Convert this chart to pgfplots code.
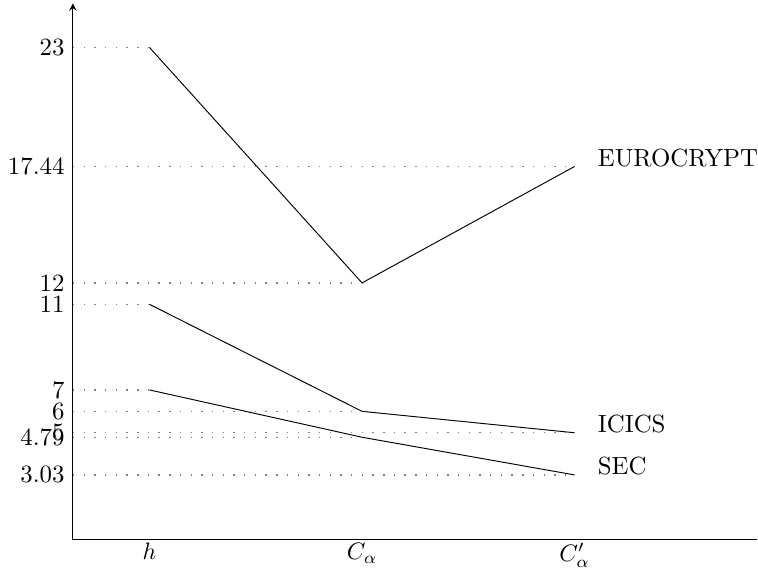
\documentclass[border=0pt]{standalone}
\usepackage{pgfplots}
\pgfplotsset{compat=1.18}
\begin{document}
\begin{tikzpicture}[font=\fontsize{10.45}{12.5}\selectfont]
\begin{axis}[
  scale only axis,
  width=288pt, height=225.7pt,
  axis lines=left,
  x axis line style={-},
  y axis line style={-stealth},
  xmin=0.64, xmax=3.86,
  ymin=0, ymax=25.06,
  xtick={1,2,3},
  xticklabels={$h$,$C_\alpha$,$C'_\alpha$},
  xticklabel style={yshift=2pt},
  ticklabel style={font=\fontsize{10.45}{12.5}\selectfont},
  ytick={3.03,4.79,5,6,7,11,12,17.44,23},
  yticklabels={3.03,4.79,5,6,7,11,12,17.44,23},
  major tick length=0pt,
  clip=false,
]
% dotted guide lines
\pgfplotsset{guide/.style={gray, line width=0.6pt, dash pattern=on 0.6pt off 3.9pt}}
\addplot[guide] coordinates {(0.64,23) (1,23)};
\addplot[guide] coordinates {(0.64,11) (1,11)};
\addplot[guide] coordinates {(0.64,7) (1,7)};
\addplot[guide] coordinates {(0.64,12) (2,12)};
\addplot[guide] coordinates {(0.64,6) (2,6)};
\addplot[guide] coordinates {(0.64,4.79) (2,4.79)};
\addplot[guide] coordinates {(0.64,17.44) (3,17.44)};
\addplot[guide] coordinates {(0.64,5) (3,5)};
\addplot[guide] coordinates {(0.64,3.03) (3,3.03)};
% series
\addplot[black, thin] coordinates {(1,23) (2,12) (3,17.44)};
\addplot[black, thin] coordinates {(1,11) (2,6) (3,5)};
\addplot[black, thin] coordinates {(1,7) (2,4.79) (3,3.03)};
\node[anchor=base west, inner sep=0pt, xshift=9.6pt] at (axis cs:3,17.44) {EUROCRYPT};
\node[anchor=base west, inner sep=0pt, xshift=9.6pt] at (axis cs:3,5) {ICICS};
\node[anchor=base west, inner sep=0pt, xshift=9.6pt] at (axis cs:3,3.03) {SEC};
\end{axis}
\path (0,227.1pt);
\end{tikzpicture}
\end{document}
